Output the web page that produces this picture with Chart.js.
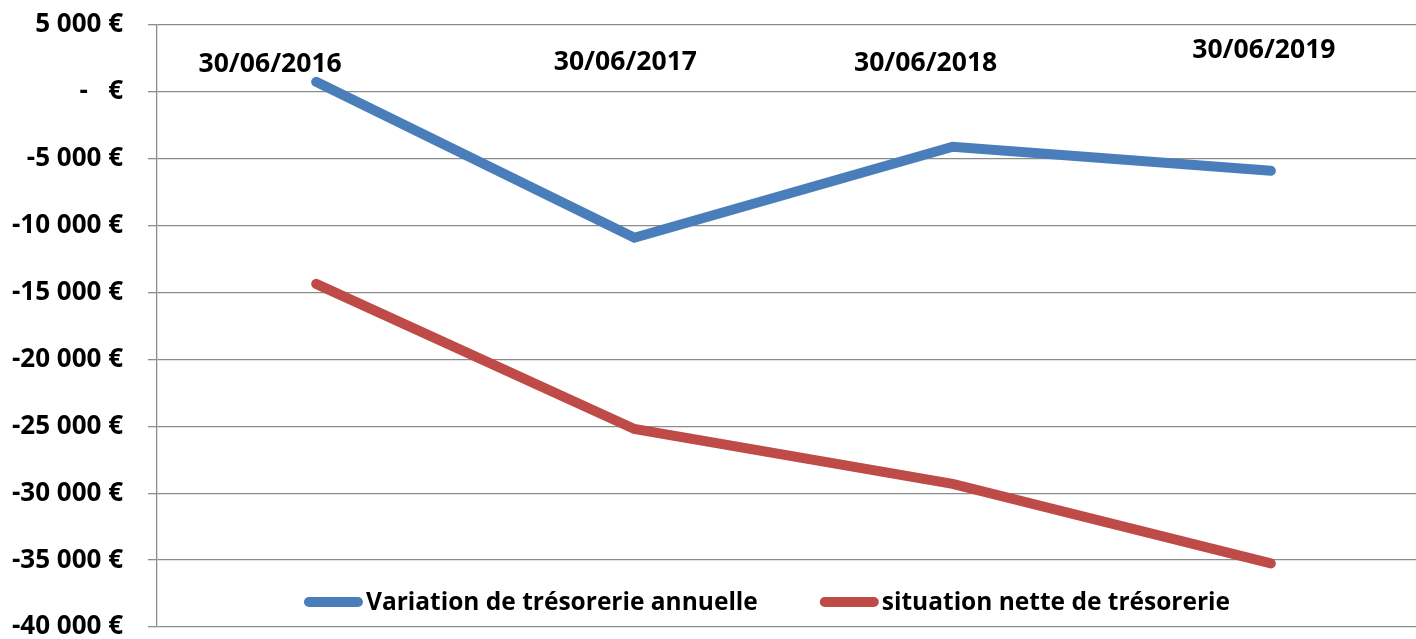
<!DOCTYPE html>
<html lang="fr">
<head>
<meta charset="utf-8">
<title>Trésorerie</title>
<script src="https://cdn.jsdelivr.net/npm/chart.js@4"></script>
<style>
  html, body { margin: 0; padding: 0; background: #fff; overflow: hidden; }
  #wrap { position: relative; width: 1430px; height: 639px; }
</style>
</head>
<body>
<div id="wrap"><canvas id="chart"></canvas></div>
<script>
// Values (euros).
const dates = ["30/06/2016", "30/06/2017", "30/06/2018", "30/06/2019"];
const variationAnnuelle = [750, -10900, -4100, -5900];
const situationNette = [-14350, -25200, -29300, -35250];
const seriesNames = ["Variation de trésorerie annuelle", "situation nette de trésorerie"];
const yMin = -40000;
const yMax = 5000;
const yStep = 5000;

const FONT = "'Open Sans', 'DejaVu Sans', sans-serif";
const GRID = "#8c8c8c";

// "5 000 €", "-10 000 €", and the accounting style "-   €" for zero.
function fmtEuro(v) {
  if (v === 0) return "-   €";
  const s = Math.abs(v).toString().replace(/\B(?=(\d{3})+(?!\d))/g, " ");
  return (v < 0 ? "-" : "") + s + " €";
}

// Date labels float over the plot near the top, slightly off each point
// (hand-placed in the original), so they're drawn here instead of on an axis.
const dateLabels = {
  id: "dateLabels",
  afterDatasetsDraw(chart, args, opts) {
    const { ctx, scales: { x } } = chart;
    ctx.save();
    ctx.font = `bold ${opts.size}px ${FONT}`;
    ctx.fillStyle = "#000";
    ctx.textAlign = "center";
    ctx.textBaseline = "middle";
    dates.forEach((d, i) => {
      const [dx, y] = opts.offsets[i];
      ctx.fillText(d, x.getPixelForValue(i) + dx, y);
    });
    ctx.restore();
  },
};

// Legend sits inside the plot, above the bottom gridline.
const innerLegend = {
  id: "innerLegend",
  afterDraw(chart, args, opts) {
    const { ctx } = chart;
    ctx.save();
    ctx.font = `bold ${opts.size}px ${FONT}`;
    ctx.textBaseline = "middle";
    const items = chart.data.datasets.map((ds) => ({
      label: ds.label,
      color: ds.borderColor,
      w: opts.sample + opts.textGap + ctx.measureText(ds.label).width,
    }));
    const total = items.reduce((s, it) => s + it.w, 0) + opts.itemGap * (items.length - 1);
    let x = opts.centerX - total / 2;
    for (const it of items) {
      ctx.strokeStyle = it.color;
      ctx.lineWidth = opts.lineWidth;
      ctx.lineCap = "round";
      ctx.beginPath();
      ctx.moveTo(x + opts.lineWidth / 2, opts.y);
      ctx.lineTo(x + opts.sample - opts.lineWidth / 2, opts.y);
      ctx.stroke();
      ctx.fillStyle = "#000";
      ctx.fillText(it.label, x + opts.sample + opts.textGap, opts.y + 1);
      x += it.w + opts.itemGap;
    }
    ctx.restore();
  },
};

new Chart(document.getElementById("chart"), {
  type: "line",
  data: {
    labels: dates,
    datasets: [
      {
        label: seriesNames[0],
        data: variationAnnuelle,
        borderColor: "#4a7ebb",
        borderWidth: 10,
        borderCapStyle: "round",
        pointRadius: 0,
        tension: 0,
      },
      {
        label: seriesNames[1],
        data: situationNette,
        borderColor: "#be4b48",
        borderWidth: 10,
        borderCapStyle: "round",
        pointRadius: 0,
        tension: 0,
      },
    ],
  },
  options: {
    responsive: true,
    maintainAspectRatio: false,
    animation: false,
    layout: { padding: { top: 25, bottom: 12, left: 0, right: 0 } },
    plugins: {
      legend: { display: false },
      tooltip: { enabled: false },
      dateLabels: {
        size: 26.5,
        offsets: [[-46, 64], [-9, 62], [-27, 63], [-7, 50]],
      },
      innerLegend: {
        size: 24.5,
        centerX: 767,
        y: 602,
        sample: 59,
        textGap: 3,
        itemGap: 62,
        lineWidth: 10,
      },
    },
    scales: {
      x: { type: "category", offset: true, display: false },
      y: {
        min: yMin,
        max: yMax,
        // fixed axis width, and no extra room for the end labels' overhang
        afterFit: (s) => {
          s.width = 157;
          s.paddingTop = 0;
          s.paddingBottom = 0;
        },
        border: { color: GRID, width: 1.3 },
        grid: { color: GRID, lineWidth: 1.3, tickLength: 9, tickColor: GRID },
        ticks: {
          stepSize: yStep,
          padding: 25,
          color: "#000",
          font: { family: FONT, weight: "bold", size: 26 },
          callback: (v) => fmtEuro(v),
        },
      },
    },
  },
  plugins: [dateLabels, innerLegend],
});
</script>
</body>
</html>
